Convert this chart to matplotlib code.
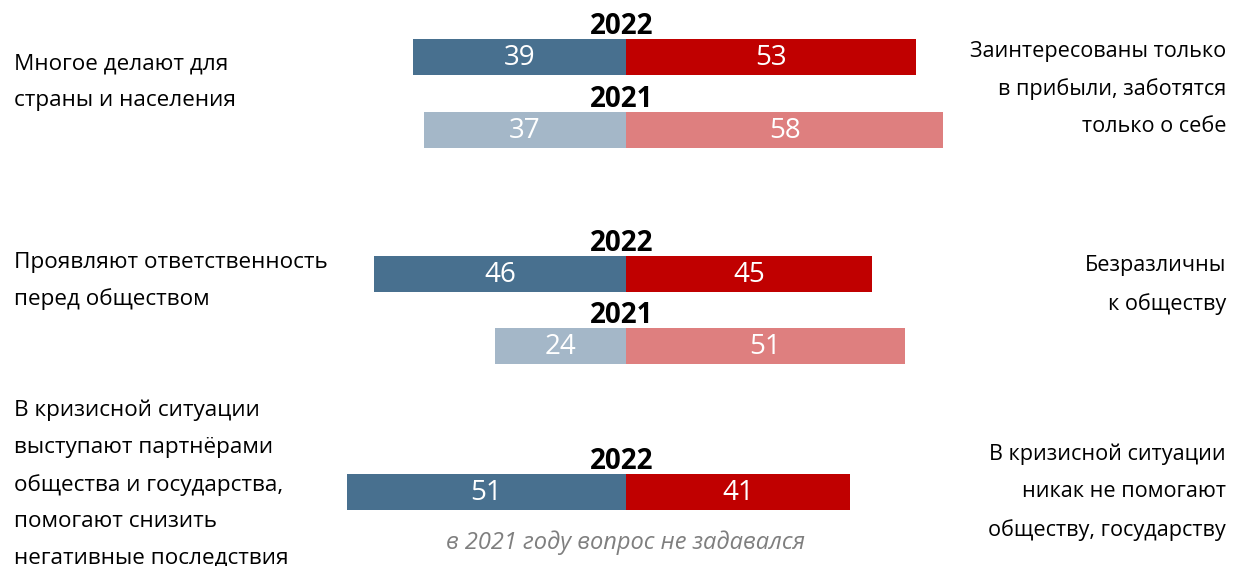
import matplotlib
matplotlib.use("Agg")
import matplotlib.pyplot as plt

plt.rcParams["font.family"] = ["Open Sans", "DejaVu Sans"]

left_labels = ["Многое делают для\nстраны и населения",
               "Проявляют ответственность\nперед обществом",
               "В кризисной ситуации\nвыступают партнёрами\nобщества и государства,\nпомогают снизить\nнегативные последствия"]
right_labels = ["Заинтересованы только\nв прибыли, заботятся\nтолько о себе",
                "Безразличны\nк обществу",
                "В кризисной ситуации\nникак не помогают\nобществу, государству"]
pos_2022 = [39, 46, 51]
neg_2022 = [53, 45, 41]
pos_2021 = [37, 24, None]
neg_2021 = [58, 51, None]
note = "в 2021 году вопрос не задавался"

# layout (pixel rows)
y22 = [57, 274, 492]
y21 = [130, 346, 0]
ly = [82, 281, 484]
ry = [89, 285, 492]
bh = 36
scale = 5.47
cx = 626

c_pos22, c_neg22 = "#48708f", "#c00000"
c_pos21, c_neg21 = "#a4b7c8", "#de7f7f"

fig = plt.figure(figsize=(12.37, 5.66), dpi=100)
ax = fig.add_axes([0, 0, 1, 1])
ax.set_xlim(-cx / scale, (1237 - cx) / scale)
ax.set_ylim(566, 0)
ax.axis("off")

def draw(y, p, n, cp, cn, year):
    ax.barh(y, -p, height=bh, color=cp, left=0)
    ax.barh(y, n, height=bh, color=cn, left=0)
    ax.text(-p / 2, y + 1, str(p), color="white", ha="center", va="center", fontsize=20)
    ax.text(n / 2, y + 1, str(n), color="white", ha="center", va="center", fontsize=20)
    ax.text(-0.7, y - bh / 2 + 2, year, ha="center", va="bottom", fontsize=20,
            fontweight="bold", color="black", zorder=3)

for i in range(3):
    draw(y22[i], pos_2022[i], neg_2022[i], c_pos22, c_neg22, "2022")
    if pos_2021[i] is not None:
        draw(y21[i], pos_2021[i], neg_2021[i], c_pos21, c_neg21, "2021")
    ax.text(-(cx - 14) / scale, ly[i], left_labels[i], ha="left", va="center",
            fontsize=16.2, linespacing=1.95)
    ax.text((1226 - cx) / scale, ry[i], right_labels[i], ha="right", va="center",
            fontsize=15.6, linespacing=2.0)

ax.text(0, 543, note, ha="center", va="center", fontsize=17, style="italic", color="#7f7f7f")

fig.savefig("out.png", dpi=100)
